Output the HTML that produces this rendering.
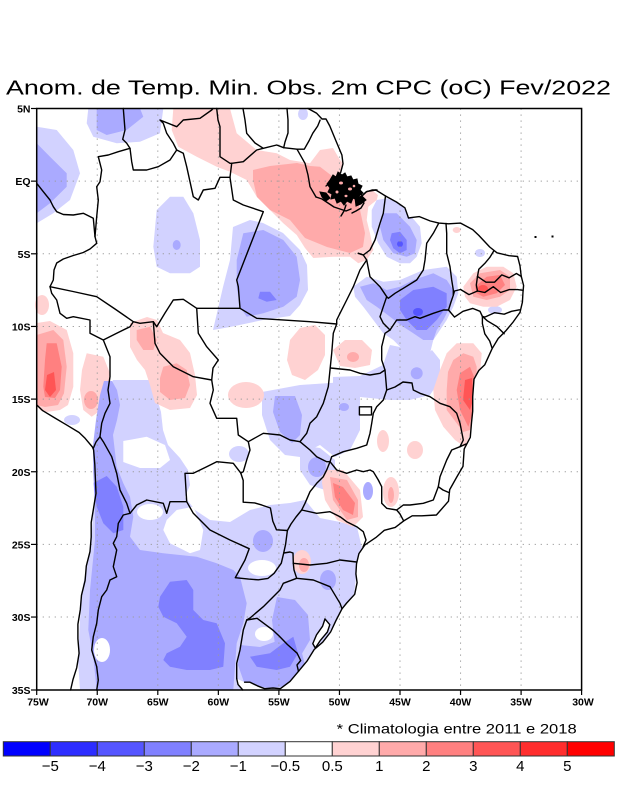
<!DOCTYPE html>
<html><head><meta charset="utf-8"><style>
html,body{margin:0;padding:0;background:#fff;}
svg{display:block;}
</style></head><body>
<svg width="618" height="800" viewBox="0 0 618 800" xmlns="http://www.w3.org/2000/svg">
<rect x="0" y="0" width="618" height="800" fill="#fff"/>
<text x="6" y="94.3" font-family="Liberation Sans, sans-serif" font-size="20" textLength="605" lengthAdjust="spacingAndGlyphs" fill="#000">Anom. de Temp. Min. Obs. 2m CPC (oC) Fev/2022</text>

<g stroke="none">
<polygon fill="#d2d2ff" points="93,448 97,430 103,410 108,390 113,380 153,380 156,395 161,412 163,430 168,445 180,458 188,470 190,485 185,497 195,510 210,520 230,522 250,510 270,505 290,503 305,500 320,518 340,522 357,527 362,548 358,562 356,578 354,594 345,605 336,620 328,635 315,650 305,662 298,672 290,682 280,690 80,690 78,660 80,620 83,585 88,562 92,530 94,500 93,470"/>
<g fill="#fff">
<polygon points="123.3,441 146.7,436.7 165,445 170,460 160,468 140,468 123.3,462"/>
<polygon points="166.7,520 176.7,510 193.3,506.7 203.3,530 200,550 190,553.3 170,543.3 163.3,530"/>
<ellipse cx="150" cy="512" rx="13" ry="8"/>
<ellipse cx="262" cy="568" rx="14" ry="8"/>
</g>
<g fill="#d2d2ff">
<polygon points="36.7,126.7 56.7,130 73.3,150 80,173.3 70,200 53.3,213.3 36.7,223.3"/>
<polygon points="88.3,108.5 163.3,108.5 160,133.3 140,141.7 116.7,143.3 93.3,136.7 86.7,123.3"/>
<ellipse cx="303" cy="114" rx="5" ry="6"/>
<polygon points="156.7,210 170,196.7 183.3,196.7 193.3,213.3 200,240 200,266.7 190,273.3 170,273.3 156.7,266.7 153.3,246.7"/>
<polygon points="233,227 250,220 263,223 283,233 300,250 307,265 308,290 300,305 290,316 263,320 230,327 213,330 217,313 223,287 230,260"/>
<polygon points="376.7,200 386.7,198.3 400,203.3 410,215 420,226.7 421.7,243.3 416.7,256.7 410,263.3 400,263.3 386.7,256.7 378.3,243.3 371.7,226.7 371.7,210"/>
<polygon points="353.3,286.7 366.7,276.7 383.3,281.7 400,280 423.3,270 446.7,266.7 456.7,276.7 458.3,293.3 453.3,306.7 446.7,320 440,330 433.3,340 430,353.3 416.7,363.3 406.7,360 400,346.7 393.3,340 383.3,333.3 373.3,320 363.3,306.7 355,296.7"/>
<polygon points="333,377 360,376 383,365 390,345 400,347 417,363 432,350 440,360 440,380 430,395 410,400 390,400 370,398 350,396 333,392"/>
<polygon points="262,392 300,385 345,382 360,390 360,430 350,450 335,457 320,445 310,450 300,457 285,455 270,440 262,415"/>
<ellipse cx="239" cy="454" rx="10" ry="8"/>
<polygon points="300,445 320,448 335,460 335,480 325,490 310,485 300,470"/>
<ellipse cx="480" cy="253" rx="5" ry="4"/>
<ellipse cx="495" cy="310" rx="7" ry="4"/>
<ellipse cx="127" cy="390" rx="14" ry="10"/>
<ellipse cx="72" cy="420" rx="8" ry="5"/>
</g>
<g fill="#ffd2d2">
<polygon points="173.3,108.5 230,108.5 236.7,133.3 256.7,150 276.7,153.3 290,160 310,163.3 320,150 333,148 340,160 345,165 360,180 378,195 376.7,200 368.3,206.7 366.7,220 370,233.3 373.3,250 366.7,260 358.3,263.3 350,256.7 333.3,256.7 313.3,258 305,248 296.7,235 283.3,223.3 270,210 256.7,196.7 246.7,180 230,171.7 216.7,166.7 196.7,156.7 178.3,146.7 171.7,130"/>
<polygon points="446.7,353.3 456.7,343.3 473.3,343.3 481.7,353.3 478,400 472,430 465,447 455,440 443.3,426.7 435,410 433.3,390 440,370"/>
<polygon points="463.3,286.7 473.3,273.3 486.7,266.7 503.3,266.7 513.3,273.3 516.7,286.7 510,300 496.7,306.7 483.3,306.7 470,303.3 465,296.7"/>
<polygon points="36.7,323 50,321 66.7,330 73.3,353.3 73.3,386.7 68,405 60,410 46.7,412 36.7,410"/>
<ellipse cx="42" cy="305" rx="7" ry="10"/>
<polygon points="86.7,353.3 103.3,356.7 110,373.3 108,400 98.3,412 91.7,416.7 83.3,410 80,390 82,370"/>
<polygon points="130,323 147,317 157,320 163,333 180,340 190,353 195,375 197,395 190,408 170,410 155,403 150,385 145,370 137,360 130,347"/>
<polygon points="290,340 300,328 315,325 325,335 325,355 318,370 305,380 292,375 287,360"/>
<polygon points="333,350 345,340 362,340 372,350 370,365 355,368 340,366"/>
<ellipse cx="383" cy="441" rx="6" ry="11"/>
<ellipse cx="415" cy="450" rx="8" ry="9"/>
<ellipse cx="391" cy="492" rx="8" ry="15"/>
<polygon points="323,470 343,470 360,490 363,517 353,527 337,520 325,500 322,483"/>
<ellipse cx="302" cy="562" rx="9" ry="12"/>
<ellipse cx="246" cy="395" rx="18" ry="13"/>
<ellipse cx="456.7" cy="230" rx="4" ry="3"/>
</g>
<g fill="#aaaaff">
<polygon points="93,445 96,420 100,395 104,381 112,381 117,390 120,405 117,420 113,435 116.7,466.7 123.3,483.3 130,496.7 133.3,516.7 130,536.7 140,550 163.3,553.3 196.7,556.7 216.7,563.3 233.3,570 240,576.7 243.3,590 246.7,603.3 243.3,623.3 236.7,643.3 233.3,690 96.7,690 93.3,656.7 88.3,630 90,590 95,540 95,506.7 93.3,473.3"/>
<polygon points="36.7,143.3 50,156.7 66.7,173.3 66.7,186.7 50,203.3 36.7,213.3"/>
<polygon points="96.7,108.5 140,108.5 143.3,116.7 126.7,130 106.7,135 96.7,130"/>
<ellipse cx="176.7" cy="245" rx="4" ry="5"/>
<polygon points="243.3,233.3 263.3,230 283.3,240 296.7,256.7 300,280 296.7,296.7 283.3,306.7 263.3,313.3 246.7,316.7 240,306.7 236.7,286.7 236.7,260"/>
<polygon points="383.3,213.3 396.7,213.3 410,226.7 416.7,240 415,253.3 406.7,256.7 393.3,253.3 383.3,240 380,226.7"/>
<polygon points="360,286.7 373.3,283.3 386.7,290 400,286.7 413.3,280 433.3,273.3 446.7,280 453.3,290 450,306.7 443.3,320 436.7,330 433.3,340 423.3,340 413.3,333.3 403.3,326.7 390,316.7 376.7,306.7 366.7,300"/>
<ellipse cx="416.7" cy="373.3" rx="6" ry="6"/>
<polygon points="275,396 295,396 302,415 300,435 292,443 280,432 273,412"/>
<ellipse cx="344" cy="407" rx="5" ry="4"/>
<ellipse cx="317" cy="467" rx="9" ry="10"/>
<ellipse cx="368" cy="491" rx="5" ry="9"/>
<ellipse cx="263" cy="541" rx="10" ry="11"/>
<ellipse cx="328" cy="580" rx="8" ry="10"/>
<polygon points="277,597 295,600 308,615 310,640 300,657 285,660 275,645 272,620"/>
<polygon points="240,645 260,647 280,640 300,645 305,665 295,685 270,688 245,685 238,665"/>
</g>
<g fill="#fff">
<ellipse cx="102" cy="650" rx="8" ry="12"/>
<ellipse cx="264" cy="634" rx="9" ry="7"/>
</g>
<g fill="#ffaaaa">
<polygon points="253,170 270,166 297,163 310,166 320,166.7 333,176.7 353,186.7 357,200 360,210 365,233 363,247 350,253 327,247 305,238 290,220 270,210 257,197 253,180"/>
<polygon points="453.3,360 463.3,353.3 473.3,356.7 476.7,366.7 476,400 470,430 463.3,432 456.7,423.3 446.7,410 446.7,390 448,372"/>
<polygon points="470,283.3 480,273.3 500,270 510,276.7 510,290 500,296.7 486.7,300 473.3,296.7"/>
<polygon points="36.7,335 53.3,330 63.3,340 66.7,366.7 64,393.3 58,405 45,407 36.7,405"/>
<ellipse cx="91" cy="400" rx="7" ry="9"/>
<polygon points="136.7,330 150,326.7 156.7,340 153.3,350 143.3,350 136.7,340"/>
<polygon points="163.3,366.7 176.7,363.3 186.7,370 190,385 185,398 170,400 160,392 160,378"/>
<ellipse cx="353" cy="357" rx="6" ry="5"/>
<ellipse cx="391" cy="495" rx="3" ry="8"/>
<polygon points="330,477 347,480 358,500 358,517 347,520 333,500"/>
<ellipse cx="304" cy="565" rx="5" ry="7"/>
</g>
<g fill="#8080ff">
<polygon points="260,291.7 270,291.7 276.7,300 266.7,301.7 258.3,298.3"/>
<polygon points="391.7,233.3 400,231.7 406.7,240 406.7,250 400,253.3 393.3,248.3 390,240"/>
<polygon points="400,300 413.3,290 433.3,286.7 446.7,293.3 446.7,306.7 436.7,320 426.7,330 416.7,330 406.7,320 400,310"/>
<polygon points="93.3,483 106.7,476 116.7,486.7 123.3,506.7 123.3,530 113.3,533.3 103.3,523.3 96.7,506.7"/>
<polygon points="160,596.7 170,581.7 186.7,580 193.3,590 193.3,610 203.3,620 216.7,623.3 225,643.3 223.3,666.7 210,670 186.7,670 170,666.7 163.3,660 166.7,653.3 180,646.7 186.7,636.7 176.7,623.3 163.3,616.7 158.3,606.7"/>
<polygon points="250,656.7 270,653.3 283.3,643.3 293.3,636.7 298,653.3 290,666.7 276.7,670 256.7,666.7"/>
</g>
<g fill="#5555ff">
<ellipse cx="400" cy="244" rx="3" ry="3"/>
<ellipse cx="418" cy="312" rx="5" ry="4"/>
</g>
<g fill="#ff8080">
<polygon points="460,373.3 470,366.7 474,376.7 474,410 468.3,426.7 460,410 456.7,390"/>
<polygon points="475,286.7 486.7,276.7 500,275 505,285 496.7,293.3 483.3,296.7 476.7,293.3"/>
<polygon points="46.7,343.3 56.7,343.3 61.7,366.7 60,390 55,398 45,397 43.3,386.7 45,360"/>
<polygon points="333,483 343,487 355,503 353,515 343,510 335,497"/>
</g>
<g fill="#ff5555">
<polygon points="465,380 472,378 473,400 470,410 463,400"/>
<ellipse cx="483" cy="289" rx="5" ry="4"/>
<polygon points="47,375 54,372 56,390 50,397 45,390"/>
</g>
</g>

<polygon fill="#fff" points="308,108.5 316.7,113.3 322,119 326,119 329.8,126 335.8,140.5 341.9,155 343,163.7 340.7,172.4 333.4,179.7 328.5,182.6 331.7,184.1 341.4,185.6 349.9,184.1 359.6,185.6 360.8,192.9 362,195.8 366.9,191.4 375.8,190 385.5,196 396.4,202 404.9,207.8 408.5,218 413.3,217.3 419.4,216.6 430.3,221 438.8,223.1 448.5,223.8 460.6,223.1 472.7,229.6 478.8,235.4 489.7,247 497,252.8 509.1,255.7 517.6,256.5 520,265.9 521.2,276.1 523.6,285.5 523,292 522.4,302.2 520,312.4 512.7,322.6 505.4,331.3 498.2,338.5 492.1,348.7 484.8,364.7 478.8,370.5 474,379.2 472.7,396.7 472.7,411.2 471.5,422.8 470.3,437.3 464.2,448.9 463,466.4 457,476.6 449.7,489.6 448.5,501.2 436.4,515 421.8,515.8 412.2,515.8 403.7,520.9 395.2,527.4 384.3,530.3 375.8,537.6 364.9,544.9 358.9,553.6 356.5,563.8 355.9,573.9 357.1,582.7 354.7,594.3 346.7,603 342,608.8 336,620.4 330.6,632 322.7,642.2 314.2,649.5 307,661.1 298.5,671.3 290,681.4 280.3,688.7 273,688 264.6,688.7 257.3,685.8 250,682.2 244.6,682.2 236.7,678.6 238,684.4 242.8,690 582,690 582,108.5"/>
<polygon fill="#fff" points="36.7,406 42,412 54,419.5 66,426.5 78,434 84,440 91,448.5 92.5,465 93.5,479 94,493 91.5,508 89,522.5 88,537 86,551.6 82,566 80,580.6 77,595 76,610 74,624 74,639 75,653 73,668 69.5,679.5 67,690 36.7,690"/>

<g stroke="#9a9a9a" stroke-width="1" stroke-dasharray="1.2 4.8" fill="none">
<line x1="97.25" y1="108.5" x2="97.25" y2="690"/>
<line x1="157.8" y1="108.5" x2="157.8" y2="690"/>
<line x1="218.35" y1="108.5" x2="218.35" y2="690"/>
<line x1="278.9" y1="108.5" x2="278.9" y2="690"/>
<line x1="339.45" y1="108.5" x2="339.45" y2="690"/>
<line x1="400" y1="108.5" x2="400" y2="690"/>
<line x1="460.55" y1="108.5" x2="460.55" y2="690"/>
<line x1="521.1" y1="108.5" x2="521.1" y2="690"/>
<line x1="36.7" y1="181.15" x2="581.6" y2="181.15"/>
<line x1="36.7" y1="253.8" x2="581.6" y2="253.8"/>
<line x1="36.7" y1="326.45" x2="581.6" y2="326.45"/>
<line x1="36.7" y1="399.1" x2="581.6" y2="399.1"/>
<line x1="36.7" y1="471.75" x2="581.6" y2="471.75"/>
<line x1="36.7" y1="544.4" x2="581.6" y2="544.4"/>
<line x1="36.7" y1="617.05" x2="581.6" y2="617.05"/>
</g>

<!-- Amazon delta mass (jagged) -->
<g fill="#000" stroke="#000" stroke-width="1" stroke-linejoin="miter">
<polygon points="330,180 333,175 336,177 338,172 342,175 345,173 347,177 351,176 353,180 357,179 358,184 362,186 360,190 363,193 359,196 357,200 353,198 351,203 347,201 344,205 341,201 337,203 335,198 331,199 332,194 328,192 330,188 327,184"/>
<polygon points="320,192 326,193 330,198 326,201 322,197"/>
<polygon points="355,198 362,196 366,200 361,204 356,206"/>
</g>
<g fill="#ffaaaa" stroke="none">
<ellipse cx="341" cy="183" rx="2" ry="1.5"/>
<ellipse cx="350" cy="189" rx="2" ry="1.5"/>
<ellipse cx="337" cy="192" rx="1.5" ry="1.5"/>
<ellipse cx="346" cy="196" rx="1.5" ry="1.2"/>
<ellipse cx="354" cy="186" rx="1.3" ry="1.3"/>
</g>

<g stroke="#000" stroke-width="1.4" fill="none" stroke-linejoin="round" stroke-linecap="round">
<polyline points="308,108.5 316.7,113.3 322,119 326,119 329.8,126 335.8,140.5 341.9,155 343,163.7 340.7,172.4 333.4,179.7 328.5,182.6"/>
<polyline points="360.8,192.9 362,195.8 366.9,191.4 375.8,190 385.5,196 396.4,202 404.9,207.8 408.5,218 413.3,217.3 419.4,216.6 430.3,221 438.8,223.1 448.5,223.8 460.6,223.1 472.7,229.6 478.8,235.4 489.7,247 497,252.8 509.1,255.7 517.6,256.5 520,265.9 521.2,276.1 523.6,285.5 523,292 522.4,302.2 520,312.4 512.7,322.6 505.4,331.3 498.2,338.5 492.1,348.7 484.8,364.7 478.8,370.5 474,379.2 472.7,396.7 472.7,411.2 471.5,422.8 470.3,437.3 464.2,448.9 463,466.4 457,476.6 449.7,489.6 448.5,501.2 436.4,515 421.8,515.8 412.2,515.8 403.7,520.9 395.2,527.4 384.3,530.3 375.8,537.6 364.9,544.9 358.9,553.6 356.5,563.8 355.9,573.9 357.1,582.7 354.7,594.3 346.7,603 342,608.8 336,620.4 330.6,632 322.7,642.2 314.2,649.5 307,661.1 298.5,671.3 290,681.4 280.3,688.7 273,688 264.6,688.7 257.3,685.8 250,682.2 244.6,682.2"/>
<polyline points="236.7,678.6 238,684.4 242.8,690"/>
<polyline points="36.7,404.9 42.8,410.7 54.9,418 67,425.2 79.1,432.5 85.1,438.3 92.4,447 93.6,449.9 94.8,464.4 95.4,478.9 96,493.4 93.6,508 91.2,522.5 91.2,537 90,551.6 86.3,566.1 85.1,580.6 81.5,595.2 80.3,609.7 77.9,624.2 77.9,638.8 79.1,653.3 76.7,667.8 73,679.5 70.6,690"/>
<polyline points="316,197 322,199 328,203 334,207 340,209 346,211 351,209"/>
<polyline points="346,205 344,211 341,216"/>
<polyline points="362,196 366,192 372,190 377,190"/>
<polyline points="360,199 364,203 361,208 356,211 352,213"/>
<polyline points="326,186 330,183 333,178"/>
<polygon points="325,618.9 329.8,624.7 327.4,632 320.1,640.7 315.3,648 312.8,643.6 316.5,634.9 322.6,626.2" fill="#fff"/>
<polyline points="123.3,108.5 125,130 122.7,139.3 126.7,143.3 130,148.3 131.7,161.7 133.3,170 146.7,170 158.3,166.7 170,160 176.7,150 173.3,143.3 166.7,133.3 163.3,123.3 160,120 176.7,126.7 183.3,120 200,118.3 211.7,110 213,108.5"/>
<polyline points="130,148.3 118.3,151.7 108.3,155 98.3,156.7 101.7,170 100,181.7 96.7,186.7 98.3,200 96.7,216.7 95,236.7 96.7,243.3"/>
<polyline points="36.7,183.3 43.3,191.7 50,200 53.3,206.7 56.7,211.7 63.3,214.5 73.3,215 83.3,213.3 93.3,218.3 95,236.7"/>
<polyline points="96.7,243.3 90,249 83.3,252.5 73.3,255.5 63.3,259 56.7,263 54,270 53.3,280 50,286.7 51.7,293.3 56.7,300 60,313.3 66.7,318.3 73.3,316.7 90,320 90,333.3 103.3,340 110,356.7 110,376.7 108,390 110,403.3 105,413.3 101.7,423.3 100,436.7 103.3,441.7 111.7,456.7 116.7,473.3 120,490 126.7,503.3 130,513.3"/>
<polyline points="100,436.7 96,442 93.3,448.3"/>
<polyline points="50,286.7 73,291.5 96.7,296.7 115,309 133.3,321.7"/>
<polyline points="103.3,340 116.7,333.3 130,326.7 133.3,321.7 140,323.3 153.3,321.7 155,343.3 160,353.3 173.3,366.7 193.3,376.7 211.7,380 213.3,390 210,403.3 216.7,418.3 236.7,418.3 238.3,435 248.3,441.7 250,450 246.7,460 243.3,471.7 240.8,473.1"/>
<polyline points="130,513.3 136.7,505 146.7,500 163.3,503.3 166.7,513.3 170,501.7 186.7,501.7 185,473.3 193.3,473.3 206.7,466.7 216.7,461.7 233.3,463.3 240.8,473.1"/>
<polyline points="130,513.3 123.3,515 118.3,523.3 116.7,536.7 113.3,543.3 116.7,550 113.3,566.7 116.7,576.7 110,580 106.7,590 101.7,596.7 98.3,610 96.7,623.3 93.3,636.7 91.7,650 96.7,666.7 98.3,680 96.7,690"/>
<polyline points="186.7,501.7 193.3,513.3 210,530 230,540 249.2,548.7 245,560 235.3,577.7 248.6,579.1 258.3,579.8 268,578.4 274.1,573.3 281.3,563.2 283.7,553 285.6,544.3 287.4,530.5"/>
<polyline points="287.4,530.5 276.5,529.8 272.8,521.1 270.4,508 262,505.1 254.7,502.9 243.2,502.2 243.2,480.4 240.8,473.1"/>
<polyline points="153.3,321.7 156.7,326.7 165,313 173.3,300 183.3,299.3 196.7,308.3 198.3,333.3 206.7,346.7 218.3,360 213,368 211.7,380"/>
<polyline points="196.7,308.3 240,308.3 256.7,318.3 310,321.7 336.7,324"/>
<polyline points="240,308.3 238.3,286.7 236.7,280 263.3,211.7 243.3,205 233.3,200 230,177.3 231.7,163.3"/>
<polyline points="176.7,150 183.3,153.3 186.7,166.7 190,181.7 193.3,196.7 198.3,200 203.3,190 215,188.3 220,177.3 230,177.3"/>
<polyline points="216.7,108.5 218,120 220,126.7 220,156.7 230,163.3 231.7,163.3 243.3,161.7 256.7,150 263.3,148.3 276.7,145 283.7,147.7 297,149.2 304.3,149.2 309.2,140.5 312.8,133.2 317.7,126 320.1,120.1"/>
<polyline points="243,108.5 245,120 246.7,133.3 255,143 263.3,148.3"/>
<polyline points="287,108.5 288,120 288,133 285,142 283.7,147.7"/>
<polyline points="297,149.2 305,163.3 308,175 310,186.7 316,197"/>
<polyline points="358.3,253.3 363.3,255 366.7,260 360,270 353.3,286.7 346.7,300 340,313.3 336.7,320 336.7,324 333.3,333.3 331.7,353.3 330,370 328.3,386.7 323.3,403.3 316.7,416.7 310,423.3 306.7,433.3 300,441.7"/>
<polyline points="248.3,441.7 263.3,433.3 280,435 290,440 300,441.7"/>
<polyline points="385.5,196 383.3,213.3 380,223.3 375,240 370,250 363.3,255 358.3,253.3"/>
<polyline points="366.7,260 370,276.7 380,286.7 386.7,296.7 383.3,306.7 380,316.7 383.3,323.3 390,330"/>
<polyline points="438.8,223.1 433.3,233.3 426.7,243.3 425,260 423.3,270 416.7,280 403.3,288.3 395,293.3 388.3,298.3 386.7,296.7"/>
<polyline points="390,330 385,333.3 381.7,346.7 381.7,360 385,370 386.7,390"/>
<polyline points="330.5,368 350,370 360,373.3 370,375 380,373.3 385,370"/>
<polyline points="390,330 396.7,320 406.7,320 415,316.7 420,318.3 433.3,313.3 443.3,310 448.5,310"/>
<polyline points="446,223.5 446.7,233.3 446.7,253.3 450,266.7 451.7,280 453.3,290 453.3,295.3 451,302 448.5,310"/>
<polyline points="453.3,295.3 454.5,291 460.6,289.5 469,294.6 477.5,291"/>
<polyline points="493.9,250.8 489.7,257.6 484.8,263.4 478.8,269.2 477.5,276.4 476.3,285.1 477.5,291"/>
<polyline points="477.5,276.4 486,282.2 494.5,282.2 501.8,274.9 509.1,277.8 516.4,273.5 521.2,276.4"/>
<polyline points="477.5,291 484.8,292.5 493.3,286.7 500.6,292.5 509.1,289.6 517.6,289.6 523,290.3"/>
<polyline points="448.5,310 454.5,317.1 463,311.3 472.7,308.4 480,311.3 482.4,316.4"/>
<polyline points="519.4,309.8 511.5,311.3 504.2,314.2 494.5,312.7 484.8,317.1 482.4,316.4"/>
<polyline points="504.2,333.8 497,326.6 487.3,320.8 482.4,316.4"/>
<polyline points="492.1,348.2 489.7,341 484.8,333.8 482.4,323.6 482.4,316.4"/>
<polyline points="386.7,390 395,387 403,382 412,383 413.3,390 420,393.3 430,396.7 440,403.3 450,406.7 456.7,413.3 460,423.3 463.3,440 460,446.7 466,444"/>
<polyline points="460,446.7 451.7,450 446.7,460 440,476.7 438.3,486.7 443,490 448.5,492.4"/>
<polyline points="438.3,486.7 433.3,500 423.3,503.3 410,505 403.3,505 396.7,510 400,514 403.7,520.9"/>
<polyline points="396.7,510 386.7,508.3 381.7,503.3 381.7,486.7 378.3,480 373.3,471.7 370,470 363.3,471.7 356.7,470 346.7,473.3 336.7,470 330,461.7"/>
<polyline points="386.7,390 383.3,400 376.7,406.7 373.3,413.3 371.7,423.3 370,433.3 366.7,445 356.7,448.3 343.3,451.7 331.7,456.7 330,461.7"/>
<polyline points="300,441.7 310,450 316.7,456.7 326.7,461.7 330,461.7"/>
<rect x="359.4" y="406.8" width="12.1" height="8.1"/>
<polyline points="330,461.7 326.7,470 323.3,476.7 316.7,483.3 310,491.7 305,503.3 301.7,510 296,517 291,524 287.4,530.5"/>
<polyline points="301.7,510 316.7,513.3 330,511.7 340,516.7 346.7,521.7 356.7,526.7 363.3,531.7 366,540 363,547"/>
<polyline points="283.7,553 290,552 293,553 293.3,563.3 294,570 296.7,578.3 283.3,583.3 280,590 263.3,606.7 250,618 246.7,620"/>
<polyline points="293.3,563.3 310,565 326.7,563.3 340,560 356.5,562"/>
<polyline points="296.7,578.3 313.3,580 330,586.7 340,603.3 342,608.8"/>
<polyline points="246.7,620 257.1,618.3 266.8,625.6 272.8,630 278.9,635.8 287.4,644.5 297.1,653.2 300.7,660.5 297,665 298.5,671.3"/>
<polyline points="246.7,620 243.3,630 240,650 236.7,663.3 236.7,678.6"/>
</g>
<rect x="534.5" y="236" width="2" height="2" fill="#000"/>
<rect x="551.5" y="235.5" width="2" height="2" fill="#000"/>

<rect x="36.7" y="108.5" width="544.9" height="581.5" fill="none" stroke="#000" stroke-width="1.5"/>
<g stroke="#000" stroke-width="1.2">
<line x1="31" y1="108.5" x2="36.7" y2="108.5"/><line x1="31" y1="181.15" x2="36.7" y2="181.15"/>
<line x1="31" y1="253.8" x2="36.7" y2="253.8"/><line x1="31" y1="326.45" x2="36.7" y2="326.45"/>
<line x1="31" y1="399.1" x2="36.7" y2="399.1"/><line x1="31" y1="471.75" x2="36.7" y2="471.75"/>
<line x1="31" y1="544.4" x2="36.7" y2="544.4"/><line x1="31" y1="617.05" x2="36.7" y2="617.05"/>
<line x1="31" y1="690" x2="36.7" y2="690"/>
<line x1="36.7" y1="690" x2="36.7" y2="695"/><line x1="97.25" y1="690" x2="97.25" y2="695"/>
<line x1="157.8" y1="690" x2="157.8" y2="695"/><line x1="218.35" y1="690" x2="218.35" y2="695"/>
<line x1="278.9" y1="690" x2="278.9" y2="695"/><line x1="339.45" y1="690" x2="339.45" y2="695"/>
<line x1="400" y1="690" x2="400" y2="695"/><line x1="460.55" y1="690" x2="460.55" y2="695"/>
<line x1="521.1" y1="690" x2="521.1" y2="695"/><line x1="581.6" y1="690" x2="581.6" y2="695"/>
</g>
<g font-family="Liberation Sans, sans-serif" font-size="10.5" font-weight="bold" fill="#000" text-anchor="end">
<text x="30.5" y="112.5">5N</text>
<text x="30.5" y="185.2">EQ</text>
<text x="30.5" y="257.8">5S</text>
<text x="30.5" y="330.5">10S</text>
<text x="30.5" y="403.1">15S</text>
<text x="30.5" y="475.8">20S</text>
<text x="30.5" y="548.4">25S</text>
<text x="30.5" y="621.1">30S</text>
<text x="30.5" y="694">35S</text>
</g>
<g font-family="Liberation Sans, sans-serif" font-size="10.5" font-weight="bold" fill="#000" text-anchor="middle">
<text x="38" y="705.5">75W</text>
<text x="97.25" y="705.5">70W</text>
<text x="157.8" y="705.5">65W</text>
<text x="218.35" y="705.5">60W</text>
<text x="278.9" y="705.5">55W</text>
<text x="339.45" y="705.5">50W</text>
<text x="400" y="705.5">45W</text>
<text x="460.55" y="705.5">40W</text>
<text x="521.1" y="705.5">35W</text>
<text x="583" y="705.5">30W</text>
</g>

<text x="336.7" y="733.3" font-family="Liberation Sans, sans-serif" font-size="14" textLength="240" lengthAdjust="spacingAndGlyphs" fill="#000">* Climatologia entre 2011 e 2018</text>

<g stroke="#333" stroke-width="1">
<rect x="3.3" y="741.7" width="47" height="14.3" fill="#0000ff"/>
<rect x="50.3" y="741.7" width="47" height="14.3" fill="#2d2dff"/>
<rect x="97.3" y="741.7" width="47" height="14.3" fill="#5555ff"/>
<rect x="144.3" y="741.7" width="47" height="14.3" fill="#8080ff"/>
<rect x="191.3" y="741.7" width="47" height="14.3" fill="#aaaaff"/>
<rect x="238.3" y="741.7" width="47" height="14.3" fill="#d2d2ff"/>
<rect x="285.3" y="741.7" width="47" height="14.3" fill="#ffffff"/>
<rect x="332.3" y="741.7" width="47" height="14.3" fill="#ffd2d2"/>
<rect x="379.3" y="741.7" width="47" height="14.3" fill="#ffaaaa"/>
<rect x="426.3" y="741.7" width="47" height="14.3" fill="#ff8080"/>
<rect x="473.3" y="741.7" width="47" height="14.3" fill="#ff5555"/>
<rect x="520.3" y="741.7" width="47" height="14.3" fill="#ff2d2d"/>
<rect x="567.3" y="741.7" width="47" height="14.3" fill="#ff0000"/>
</g>
<g font-family="Liberation Sans, sans-serif" font-size="15" fill="#000" text-anchor="middle">
<text x="50.3" y="771">−5</text>
<text x="97.3" y="771">−4</text>
<text x="144.3" y="771">−3</text>
<text x="191.3" y="771">−2</text>
<text x="238.3" y="771">−1</text>
<text x="285.3" y="771">−0.5</text>
<text x="332.3" y="771">0.5</text>
<text x="379.3" y="771">1</text>
<text x="426.3" y="771">2</text>
<text x="473.3" y="771">3</text>
<text x="520.3" y="771">4</text>
<text x="567.3" y="771">5</text>
</g>
</svg>
</body></html>
